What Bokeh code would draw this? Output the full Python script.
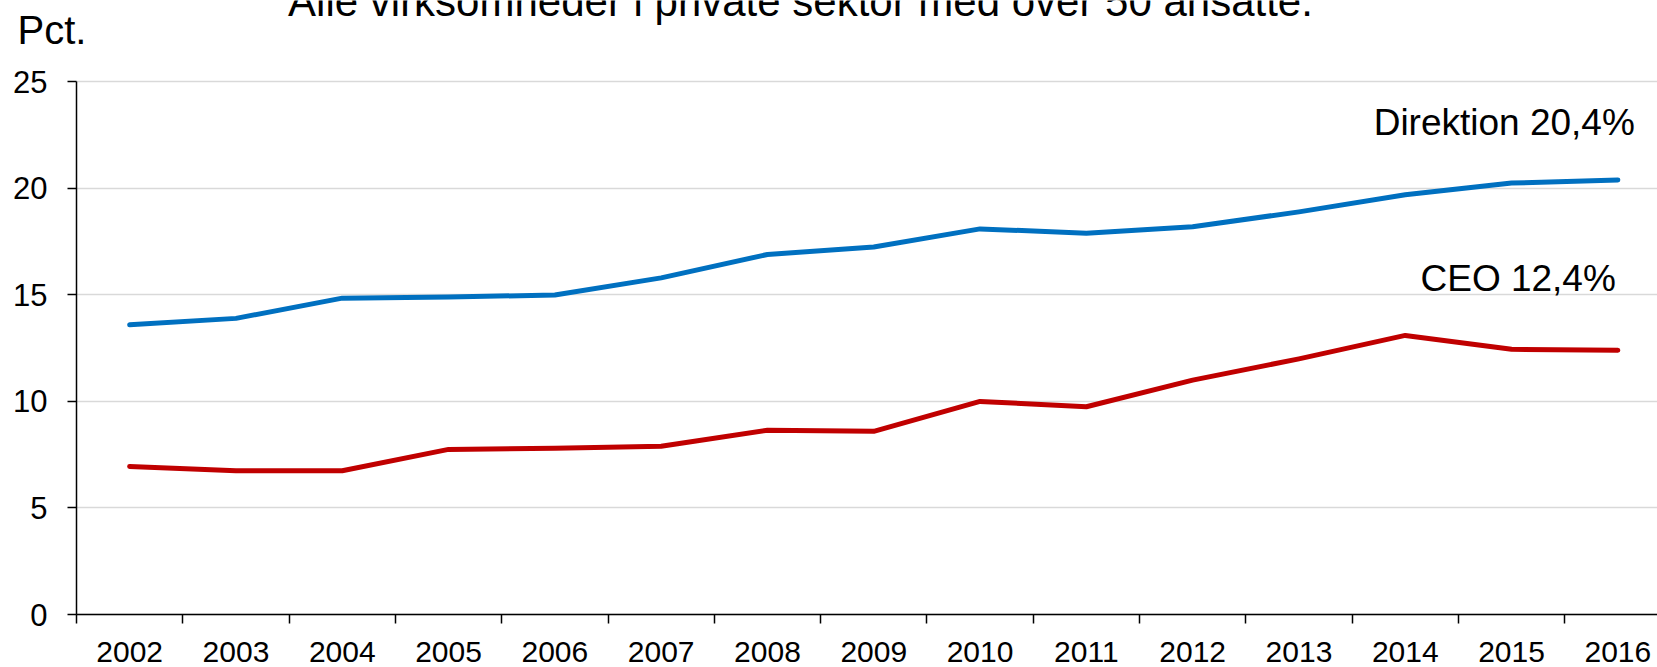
from bokeh.plotting import figure
from bokeh.models import Range1d, FixedTicker, Label, Grid
from bokeh.embed import file_html
from bokeh.resources import INLINE

# ---- data ----
years = [2002, 2003, 2004, 2005, 2006, 2007, 2008, 2009, 2010, 2011, 2012, 2013, 2014, 2015, 2016]
direktion = [13.6, 13.9, 14.85, 14.9, 15.0, 15.8, 16.9, 17.25, 18.1, 17.9, 18.2, 18.9, 19.7, 20.25, 20.4]
ceo = [6.95, 6.75, 6.75, 7.75, 7.8, 7.9, 8.65, 8.6, 10.0, 9.75, 11.0, 12.0, 13.1, 12.45, 12.4]
y_ticks = [0, 5, 10, 15, 20, 25]
title_text = "Alle virksomheder i private sektor med over 50 ansatte."
unit_text = "Pct."
dir_name = "Direktion"
ceo_name = "CEO"

FONT = "Liberation Sans"
BLUE = "#0070C0"
RED = "#C00000"

# ---- layout constants (pixels) ----
W, H = 1657, 667
AXIS_X = 76.0       # canvas x of the value axis
ZERO_Y = 614.0      # canvas y of value 0
TOP_Y = 81.4        # canvas y of the top tick
CAT_W = 106.3       # width of one year slot

x_lo = years[0] - 0.5
x_hi = years[-1] + 0.5
y_lo, y_hi = y_ticks[0], y_ticks[-1]
ppu = (ZERO_Y - TOP_Y) / (y_hi - y_lo)

p = figure(
    width=W, height=H,
    output_backend="svg", toolbar_location=None,
    x_range=Range1d(x_lo - AXIS_X / CAT_W, x_lo + (W - AXIS_X) / CAT_W),
    y_range=Range1d(y_lo - (H - ZERO_Y) / ppu, y_hi + TOP_Y / ppu),
    min_border=0, min_border_left=0, min_border_right=0, min_border_top=0, min_border_bottom=0,
)
p.outline_line_color = None
p.background_fill_color = "white"
p.border_fill_color = "white"

# x axis: labels at year centres, small ticks at the slot boundaries
xa = p.xaxis[0]
xa.fixed_location = y_lo
xa.bounds = (x_lo, x_hi)
xa.ticker = FixedTicker(ticks=years, minor_ticks=[y - 0.5 for y in years] + [x_hi])
xa.major_tick_out = 0
xa.major_tick_in = 0
xa.minor_tick_out = 9
xa.minor_tick_in = 0
xa.minor_tick_line_color = "black"
xa.minor_tick_line_width = 1.5
xa.axis_line_color = "black"
xa.axis_line_width = 1.5
xa.major_label_text_font = FONT
xa.major_label_text_font_size = "30px"
xa.major_label_text_color = "black"
xa.major_label_standoff = 18

ya = p.yaxis[0]
ya.fixed_location = x_lo
ya.bounds = (y_lo, y_hi)
ya.ticker = FixedTicker(ticks=y_ticks)
ya.major_tick_out = 9
ya.major_tick_in = 0
ya.minor_tick_out = 0
ya.minor_tick_in = 0
ya.major_tick_line_color = "black"
ya.major_tick_line_width = 1.5
ya.axis_line_color = "black"
ya.axis_line_width = 1.5
ya.major_label_text_font = FONT
ya.major_label_text_font_size = "31px"
ya.major_label_text_color = "black"
ya.major_label_standoff = 20

p.xgrid.grid_line_color = None
if "cross_bounds" in Grid.properties():
    p.ygrid.ticker = FixedTicker(ticks=y_ticks)
    p.ygrid.grid_line_color = "#D9D9D9"
    p.ygrid.grid_line_width = 1.5
    p.ygrid.cross_bounds = (x_lo, x_hi + 1)
else:
    p.ygrid.grid_line_color = None
    p.segment(x0=[x_lo] * len(y_ticks), y0=y_ticks, x1=[x_hi + 1] * len(y_ticks), y1=y_ticks,
              line_color="#D9D9D9", line_width=1.5)

p.line(years, direktion, line_width=5, line_color=BLUE, line_cap="round", line_join="round")
p.line(years, ceo, line_width=5, line_color=RED, line_cap="round", line_join="round")

def fmt(v):
    return f"{v:.1f}".replace(".", ",") + "%"

p.add_layout(Label(x=years[-1], y=direktion[-1], x_offset=17, y_offset=57,
                   text=f"{dir_name} {fmt(direktion[-1])}", text_align="right",
                   text_baseline="alphabetic", text_font=FONT, text_font_size="37px",
                   text_color="black"))
p.add_layout(Label(x=years[-1], y=ceo[-1], x_offset=-2, y_offset=72,
                   text=f"{ceo_name} {fmt(ceo[-1])}", text_align="right",
                   text_baseline="alphabetic", text_font=FONT, text_font_size="37px",
                   text_color="black"))
p.add_layout(Label(x=x_lo, y=y_hi, x_offset=-59, y_offset=52,
                   text=unit_text, text_align="left", text_baseline="alphabetic",
                   text_font=FONT, text_font_size="40px", text_color="black"))
p.add_layout(Label(x=x_lo, y=y_hi, x_offset=724, y_offset=80,
                   text=title_text, text_align="center", text_baseline="alphabetic",
                   text_font=FONT, text_font_size="42px", text_color="black"))

open("out.html", "w").write(file_html(p, INLINE))
